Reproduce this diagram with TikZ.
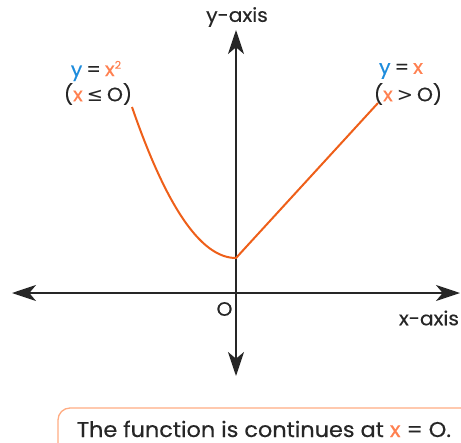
\documentclass[tikz,border=0pt]{standalone}
\usepackage{fontspec}
\setmainfont{Poppins}[FakeStretch=1.05,FakeBold=0.4]
\newfontfamily\symf{DejaVu Sans}
\usetikzlibrary{arrows.meta}
\definecolor{ink}{RGB}{38,38,38}
\definecolor{bl}{RGB}{30,140,220}
\definecolor{lor}{RGB}{255,128,80}
\definecolor{cur}{RGB}{238,95,25}
\definecolor{boxc}{RGB}{255,172,130}
\newcommand{\gapsp}{\hspace{3pt}}
\newcommand{\supsq}{\raisebox{5.5pt}{\fontsize{8}{8}\selectfont 2}}
\tikzset{
  axisline/.style={line width=1.4pt, draw=ink, {Stealth[length=18pt,width=12pt,inset=5pt]}-{Stealth[length=18pt,width=12pt,inset=5pt]}},
  curve/.style={line width=1.5pt, draw=cur},
  lbl/.style={text=ink, font=\fontsize{14.5}{17}\selectfont, inner sep=0pt},
}
\begin{document}
\begin{tikzpicture}[x=0.75pt,y=-0.75pt]
\useasboundingbox (0,0) rectangle (461,443);
\clip (0,0) rectangle (461,443);
% axes
\coordinate (xl) at (12,293);
\coordinate (xr) at (460,293);
\coordinate (yt) at (236,30);
\coordinate (yb) at (236,376);
\draw[axisline] (xl) -- (xr);
\draw[axisline] (yt) -- (yb);
% curve
\coordinate (v) at (236,258);
\coordinate (e) at (378,103);
\draw[curve, line join=round] plot[domain=-104:0, samples=60] ({236+\x},{258-151*(\x/104)^2}) -- (e);
% labels
\node[lbl] (ylab) at (237,17) {y-axis};
\node[lbl] (xlab) at (429,318) {x-axis};
\node[lbl] (orig) at (224.5,309) {O};
\node[lbl] (l1) at (96,71) {\textcolor{bl}{y}\gapsp=\gapsp\textcolor{lor}{x\supsq}};
\node[lbl] (l2) at (98,94) {(\textcolor{lor}{x}\gapsp{\symf ≤}\gapsp O)};
\node[lbl] (r1) at (401,71) {\textcolor{bl}{y}\gapsp=\gapsp\textcolor{lor}{x}};
\node[lbl] (r2) at (408,94) {(\textcolor{lor}{x}\gapsp{\symf >}\gapsp O)};
% note box
\draw[boxc, line width=1pt, rounded corners=9pt] (58,408) rectangle (480,470);
\node[lbl, font=\fontsize{16}{19}\selectfont, anchor=base] (note) at (264,437) {The function is continues at \textcolor{lor}{x} = O.};
\end{tikzpicture}
\end{document}
